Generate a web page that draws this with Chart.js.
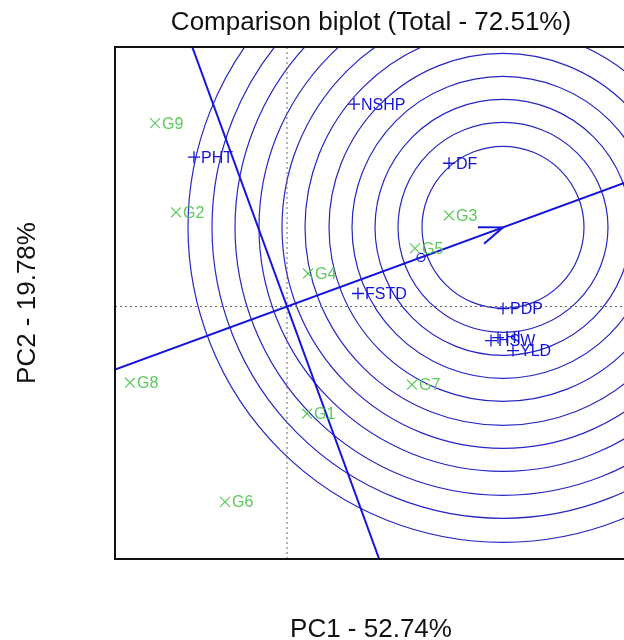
<!DOCTYPE html>
<html>
<head>
<meta charset="utf-8">
<script src="https://cdn.jsdelivr.net/npm/chart.js@4.4.1/dist/chart.umd.min.js"></script>
<style>
  html, body { margin: 0; padding: 0; background: #fff; overflow: hidden; }
</style>
</head>
<body>
<canvas id="biplot" width="640" height="660"></canvas>
<script>
// genotypes (green x)
const genotypes = ["G1", "G2", "G3", "G4", "G5", "G6", "G7", "G8", "G9"];
const genoPC1 = [0.20, -1.11, 1.62, 0.21, 1.28, -0.62, 1.25, -1.57, -1.32];
const genoPC2 = [-1.07, 0.94, 0.91, 0.33, 0.58, -1.95, -0.78, -0.76, 1.83];

// traits (blue +)
const traits = ["DF", "FSTD", "HI", "HSW", "NSHP", "PDP", "PHT", "YLD"];
const traitPC1 = [1.62, 0.71, 2.11, 2.04, 0.67, 2.16, -0.93, 2.26];
const traitPC2 = [1.43, 0.13, -0.31, -0.34, 2.02, -0.02, 1.49, -0.44];

// ideal point, average point and circle radii
const idealPoint = [2.16, 0.79];
const averagePoint = [1.34, 0.49];
const circleRadii = [0.81, 1.05, 1.28, 1.51, 1.74, 1.98, 2.21, 2.44, 2.68, 2.91, 3.15];

const xLimits = [-1.72, 3.40];
const yLimits = [-2.52, 2.59];

const BLUE = "#1414dc";
const GREEN = "#5cc95c";
const FONT = "'Liberation Sans', Arial, sans-serif";

// line through origin and the ideal point, and its perpendicular
const slope = idealPoint[1] / idealPoint[0];
const aeaLine = [
  {x: xLimits[0], y: slope * xLimits[0]},
  {x: xLimits[1], y: slope * xLimits[1]}
];
const perpLine = [
  {x: -yLimits[1] * slope, y: yLimits[1]},
  {x: -yLimits[0] * slope, y: yLimits[0]}
];

const genoPoints = genotypes.map((g, i) => ({x: genoPC1[i], y: genoPC2[i], label: g}));
const traitPoints = traits.map((t, i) => ({x: traitPC1[i], y: traitPC2[i], label: t}));

const backgroundStuff = {
  id: "backgroundStuff",
  beforeDatasetsDraw(chart) {
    const {ctx, chartArea: a, scales: {x, y}} = chart;
    ctx.save();
    ctx.beginPath();
    ctx.rect(a.left, a.top, a.right - a.left, a.bottom - a.top);
    ctx.clip();
    // concentric circles
    const cx = x.getPixelForValue(idealPoint[0]);
    const cy = y.getPixelForValue(idealPoint[1]);
    const unit = x.getPixelForValue(1) - x.getPixelForValue(0);
    ctx.strokeStyle = "#2626c4";
    ctx.lineWidth = 1.2;
    circleRadii.forEach(r => {
      ctx.beginPath();
      ctx.arc(cx, cy, r * unit, 0, Math.PI * 2);
      ctx.stroke();
    });
    // dotted origin lines
    ctx.strokeStyle = "#666";
    ctx.lineWidth = 1;
    ctx.setLineDash([2, 3]);
    const ox = x.getPixelForValue(0);
    const oy = y.getPixelForValue(0);
    ctx.beginPath();
    ctx.moveTo(ox, a.top); ctx.lineTo(ox, a.bottom);
    ctx.moveTo(a.left, oy); ctx.lineTo(a.right, oy);
    ctx.stroke();
    ctx.restore();
  },
  afterDatasetsDraw(chart) {
    const {ctx, chartArea: a, scales: {x, y}} = chart;
    ctx.save();
    // arrow head at ideal point
    const tx = x.getPixelForValue(idealPoint[0]);
    const ty = y.getPixelForValue(idealPoint[1]);
    const ang = Math.atan2(ty - y.getPixelForValue(0), tx - x.getPixelForValue(0));
    ctx.strokeStyle = BLUE;
    ctx.lineWidth = 2;
    ctx.beginPath();
    ctx.moveTo(tx - 25 * Math.cos(ang - 0.36), ty - 25 * Math.sin(ang - 0.36));
    ctx.lineTo(tx, ty);
    ctx.lineTo(tx - 25 * Math.cos(ang + 0.36), ty - 25 * Math.sin(ang + 0.36));
    ctx.stroke();
    // labels
    ctx.font = "16px " + FONT;
    ctx.textBaseline = "middle";
    ctx.textAlign = "left";
    ctx.fillStyle = GREEN;
    genoPoints.forEach(p => {
      ctx.fillText(p.label, x.getPixelForValue(p.x) + 7, y.getPixelForValue(p.y) + 1);
    });
    ctx.fillStyle = BLUE;
    traitPoints.forEach(p => {
      ctx.fillText(p.label, x.getPixelForValue(p.x) + 7, y.getPixelForValue(p.y) + 1);
    });
    // frame
    ctx.strokeStyle = "#111";
    ctx.lineWidth = 2;
    ctx.strokeRect(a.left, a.top, a.right - a.left, a.bottom - a.top);
    ctx.restore();
  }
};

new Chart(document.getElementById("biplot"), {
  type: "scatter",
  data: {
    datasets: [
      {
        label: "Genotypes",
        data: genoPoints,
        pointStyle: "crossRot",
        pointRadius: 7,
        borderColor: GREEN,
        borderWidth: 1.2
      },
      {
        label: "Traits",
        data: traitPoints,
        pointStyle: "cross",
        pointRadius: 6,
        borderColor: BLUE,
        borderWidth: 1.3
      },
      {
        label: "Average",
        data: [{x: averagePoint[0], y: averagePoint[1]}],
        pointStyle: "circle",
        pointRadius: 4,
        backgroundColor: "rgba(0,0,0,0)",
        borderColor: BLUE,
        borderWidth: 1.2
      },
      {
        type: "line",
        label: "AEA",
        data: aeaLine,
        borderColor: BLUE,
        borderWidth: 2,
        pointRadius: 0
      },
      {
        type: "line",
        label: "Perpendicular",
        data: perpLine,
        borderColor: BLUE,
        borderWidth: 2,
        pointRadius: 0
      }
    ]
  },
  options: {
    responsive: false,
    animation: false,
    layout: {padding: {left: 0, right: 13, top: 0, bottom: 0}},
    plugins: {
      legend: {display: false},
      tooltip: {enabled: false},
      title: {
        display: true,
        fullSize: false,
        text: "Comparison biplot (Total - 72.51%)",
        color: "#111",
        font: {family: FONT, size: 26, weight: "normal", lineHeight: 1.2},
        padding: {top: 7.4, bottom: 8.4}
      }
    },
    scales: {
      x: {
        type: "linear",
        min: xLimits[0],
        max: xLimits[1],
        grid: {display: false},
        border: {display: false},
        ticks: {display: false},
        title: {
          display: true,
          text: "PC1 - 52.74%",
          color: "#111",
          font: {family: FONT, size: 26, lineHeight: 1.2},
          padding: {top: 47.4, bottom: 14.4}
        }
      },
      y: {
        type: "linear",
        min: yLimits[0],
        max: yLimits[1],
        grid: {display: false},
        border: {display: false},
        ticks: {display: false},
        title: {
          display: true,
          text: "PC2 - 19.78%",
          color: "#111",
          font: {family: FONT, size: 26, lineHeight: 1.2},
          padding: {top: 12.4, bottom: 63.4}
        }
      }
    }
  },
  plugins: [backgroundStuff]
});
</script>
</body>
</html>
